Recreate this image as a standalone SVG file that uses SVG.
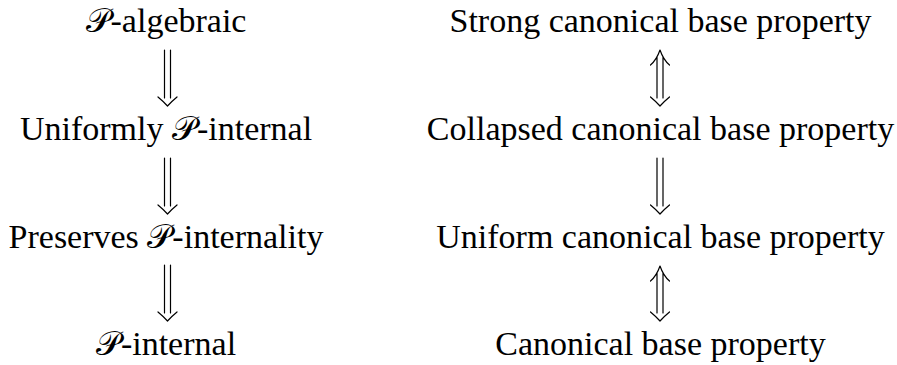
<svg xmlns="http://www.w3.org/2000/svg" width="897" height="365" viewBox="0 0 897 365">
<style>
text{font-family:"Liberation Serif","DejaVu Serif",serif;font-size:34px;fill:#000;text-anchor:middle}
.cal{font-family:"DejaVu Sans","Noto Sans",serif;font-style:normal}
.arr{fill:none;stroke:#000;stroke-width:1.2;stroke-linecap:round;stroke-linejoin:round}
</style>
<rect width="897" height="365" fill="#fff"/>
<g id="n-palg"><text x="166" y="32"><tspan class="cal">𝒫</tspan>-algebraic</text></g>
<g id="n-unifint"><text x="166" y="140">Uniformly <tspan class="cal">𝒫</tspan>-internal</text></g>
<g id="n-pres"><text x="166" y="248">Preserves <tspan class="cal">𝒫</tspan>-internality</text></g>
<g id="n-pint"><text x="166" y="355"><tspan class="cal">𝒫</tspan>-internal</text></g>
<g id="n-strong"><text x="660.5" y="32">Strong canonical base property</text></g>
<g id="n-collapsed"><text x="660.5" y="140">Collapsed canonical base property</text></g>
<g id="n-uniform"><text x="660.5" y="248">Uniform canonical base property</text></g>
<g id="n-cbp"><text x="660.5" y="355">Canonical base property</text></g>
<g id="connectors" class="arr">
  <!-- left implications -->
  <path d="M164.5,50 V98 M170.5,50 V98 M158,97 Q164,102 167.5,106 Q171,102 177,97"/>
  <path d="M164.5,158 V206 M170.5,158 V206 M158,205 Q164,210 167.5,214 Q171,210 177,205"/>
  <path d="M164.5,265 V313 M170.5,265 V313 M158,312 Q164,317 167.5,321 Q171,317 177,312"/>
  <!-- right -->
  <path d="M657,57 V98 M663,57 V98 M650.5,65 Q656.5,60 660,50 Q663.5,60 669.5,65 M650.5,97 Q656.5,102 660,106 Q663.5,102 669.5,97"/>
  <path d="M657,158 V206 M663,158 V206 M650.5,205 Q656.5,210 660,214 Q663.5,210 669.5,205"/>
  <path d="M657,273 V313 M663,273 V313 M650.5,281 Q656.5,276 660,266 Q663.5,276 669.5,281 M650.5,312 Q656.5,317 660,321 Q663.5,317 669.5,312"/>
</g>
</svg>
